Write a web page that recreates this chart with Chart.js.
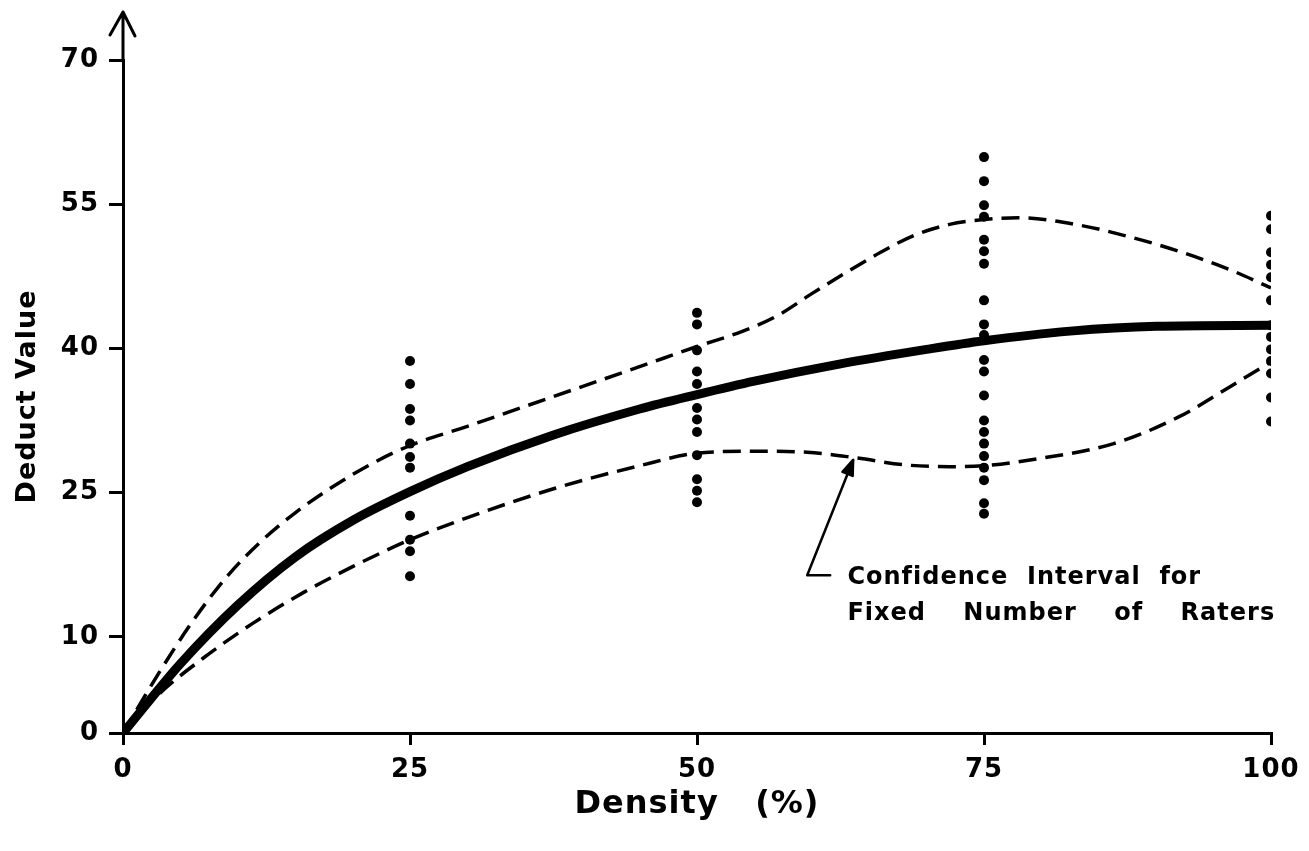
<!DOCTYPE html>
<html>
<head>
<meta charset="utf-8">
<script src="https://cdn.jsdelivr.net/npm/chart.js@4/dist/chart.umd.min.js"></script>
<style>
    html, body { margin: 0; padding: 0; background: #fff; }
    #wrap { width: 1309px; height: 851px; position: relative; }
</style>
</head>
<body>
<div id="wrap"><canvas id="c" width="1309" height="851"></canvas></div>
<script>
// axis ticks
const densityTicks = [0, 25, 50, 75, 100];
const deductTicks = [0, 10, 25, 40, 55, 70];

// individual rater deduct values at each density
const ratersAt25 = [38.7, 36.3, 33.7, 32.5, 30.1, 28.7, 27.6, 22.6, 20.1, 18.9, 16.3];
const ratersAt50 = [43.7, 42.5, 39.8, 37.6, 36.3, 33.8, 32.6, 31.3, 28.9, 26.4, 25.2, 24.0];
const ratersAt75 = [59.9, 57.4, 54.9, 53.7, 51.3, 50.1, 48.8, 45.0, 42.5, 41.4, 38.8, 37.6, 35.1,
    32.5, 31.3, 30.1, 28.8, 27.6, 26.3, 23.9, 22.8];
const ratersAt100 = [53.8, 52.4, 50.0, 48.7, 47.4, 45.0, 42.4, 41.2, 39.9, 38.7, 37.4, 34.9, 32.4];

// mean deduct curve
const meanX = [0, 5, 10, 15, 20, 25, 30, 37.5, 45, 50, 55, 62.5, 70, 75, 82.5, 90, 100];
const meanY = [0, 7.2, 13.3, 18.3, 22.1, 25.1, 27.7, 31.0, 33.7, 35.2, 36.6, 38.4, 39.9, 40.8, 41.8, 42.3, 42.4];

// confidence interval, upper and lower bounds
const upperX = [0, 3, 6, 9, 12, 15, 18, 21.5, 25, 30, 37.5, 45, 50, 54, 57, 60, 63, 66, 69, 72,
    75, 78, 83.4, 87.7, 92, 96.4, 100];
const upperY = [0, 6.0, 11.5, 16.2, 19.9, 22.9, 25.4, 27.9, 29.9, 31.9, 35.0, 38.1, 40.2, 41.8, 43.4,
    45.7, 47.9, 50.0, 51.8, 52.9, 53.4, 53.6, 52.8, 51.6, 50.1, 48.2, 46.3];
const lowerX = [0, 3, 7, 11.3, 15.7, 20, 25, 30, 37.5, 45, 50, 55, 59.6, 64, 68, 72, 75, 79, 86.3,
    92, 96.4, 100];
const lowerY = [0, 3.9, 7.8, 11.4, 14.6, 17.3, 20.1, 22.4, 25.4, 27.8, 29.1, 29.3, 29.2, 28.6, 27.9,
    27.7, 27.8, 28.4, 30.1, 32.9, 36.0, 38.6];

const noteLines = ["Confidence  Interval  for", "Fixed    Number    of    Raters"];

const FONT = "'DejaVu Sans', sans-serif";

function pts(xs, ys) {
    return xs.map((x, i) => ({ x: x, y: ys[i] }));
}
function column(x, ys) {
    return ys.map((y) => ({ x: x, y: y }));
}

const dots = []
    .concat(column(25, ratersAt25))
    .concat(column(50, ratersAt50))
    .concat(column(75, ratersAt75))
    .concat(column(100, ratersAt100));

// y axis extension with arrow, and the pointer note
const decor = {
    id: "decor",
    beforeDraw(chart) {
        chart.ctx.letterSpacing = "1px";
    },
    afterDraw(chart) {
        const ctx = chart.ctx;
        const a = chart.chartArea;
        const xs = chart.scales.x;
        const ys = chart.scales.y;
        ctx.save();
        ctx.strokeStyle = "#000";
        ctx.fillStyle = "#000";
        ctx.lineWidth = 3;
        ctx.lineCap = "round";
        ctx.lineJoin = "round";
        // axis runs on past 70 to an arrowhead
        const topY = a.top - 48;
        ctx.beginPath();
        ctx.moveTo(a.left, a.top);
        ctx.lineTo(a.left, topY);
        ctx.moveTo(a.left - 13, topY + 23);
        ctx.lineTo(a.left, topY);
        ctx.lineTo(a.left + 12, topY + 24);
        ctx.stroke();

        // pointer to lower bound
        const tipX = xs.getPixelForValue(63.6), tipY = ys.getPixelForValue(28.4);
        const tailX = xs.getPixelForValue(59.6), tailY = ys.getPixelForValue(16.4);
        ctx.lineWidth = 2.5;
        ctx.beginPath();
        ctx.moveTo(xs.getPixelForValue(61.6), tailY);
        ctx.lineTo(tailX, tailY);
        ctx.lineTo(tipX, tipY);
        ctx.stroke();
        const ang = Math.atan2(tipY - tailY, tipX - tailX);
        ctx.beginPath();
        ctx.moveTo(tipX - 16 * Math.cos(ang - 0.35), tipY - 16 * Math.sin(ang - 0.35));
        ctx.lineTo(tipX, tipY);
        ctx.lineTo(tipX - 16 * Math.cos(ang + 0.35), tipY - 16 * Math.sin(ang + 0.35));
        ctx.closePath();
        ctx.fill();
        ctx.stroke();

        ctx.font = "bold 24px " + FONT;
        ctx.letterSpacing = "1px";
        ctx.textAlign = "left";
        ctx.textBaseline = "middle";
        const tx = xs.getPixelForValue(63.1);
        ctx.fillText(noteLines[0], tx, ys.getPixelForValue(16.1));
        ctx.fillText(noteLines[1], tx, ys.getPixelForValue(12.4));
        ctx.restore();
    },
};

new Chart(document.getElementById("c"), {
    type: "scatter",
    data: {
        datasets: [
            {
                type: "line",
                data: pts(meanX, meanY),
                borderColor: "#000",
                borderWidth: 9,
                borderCapStyle: "round",
                pointRadius: 0,
                cubicInterpolationMode: "monotone",
            },
            {
                type: "line",
                data: pts(upperX, upperY),
                borderColor: "#000",
                borderWidth: 3.5,
                borderDash: [18, 9],
                pointRadius: 0,
                cubicInterpolationMode: "monotone",
            },
            {
                type: "line",
                data: pts(lowerX, lowerY),
                borderColor: "#000",
                borderWidth: 3.5,
                borderDash: [18, 9],
                pointRadius: 0,
                cubicInterpolationMode: "monotone",
            },
            {
                data: dots,
                backgroundColor: "#000",
                borderColor: "#000",
                pointRadius: 5,
                borderWidth: 0,
            },
        ],
    },
    options: {
        responsive: false,
        animation: false,
        layout: { padding: { top: 60, right: 38, left: 0, bottom: 0 } },
        plugins: { legend: { display: false }, tooltip: { enabled: false } },
        scales: {
            x: {
                type: "linear",
                min: 0,
                max: 100,
                afterBuildTicks(scale) {
                    scale.ticks = densityTicks.map((v) => ({ value: v }));
                },
                afterFit(scale) {
                    scale.height = 118;
                },
                ticks: { color: "#000", font: { family: FONT, size: 26, weight: "bold" }, padding: 10 },
                grid: { drawOnChartArea: false, tickLength: 12, color: "#000", lineWidth: 3 },
                border: { color: "#000", width: 3 },
                title: {
                    display: true,
                    text: "Density   (%)",
                    color: "#000",
                    font: { family: FONT, size: 32, weight: "bold" },
                    padding: { top: 0, bottom: 27 },
                },
            },
            y: {
                min: 0,
                max: 70,
                afterBuildTicks(scale) {
                    scale.ticks = deductTicks.map((v) => ({ value: v }));
                },
                afterFit(scale) {
                    scale.width = 123;
                    scale.paddingTop = 0;
                    scale.paddingBottom = 0;
                },
                ticks: { color: "#000", font: { family: FONT, size: 26, weight: "bold" }, padding: 10 },
                grid: { drawOnChartArea: false, tickLength: 14, color: "#000", lineWidth: 3 },
                border: { color: "#000", width: 3 },
                title: {
                    display: true,
                    text: "Deduct Value",
                    color: "#000",
                    font: { family: FONT, size: 27, weight: "bold" },
                    padding: { top: 12, bottom: 0 },
                },
            },
        },
    },
    plugins: [decor],
});
</script>
</body>
</html>
